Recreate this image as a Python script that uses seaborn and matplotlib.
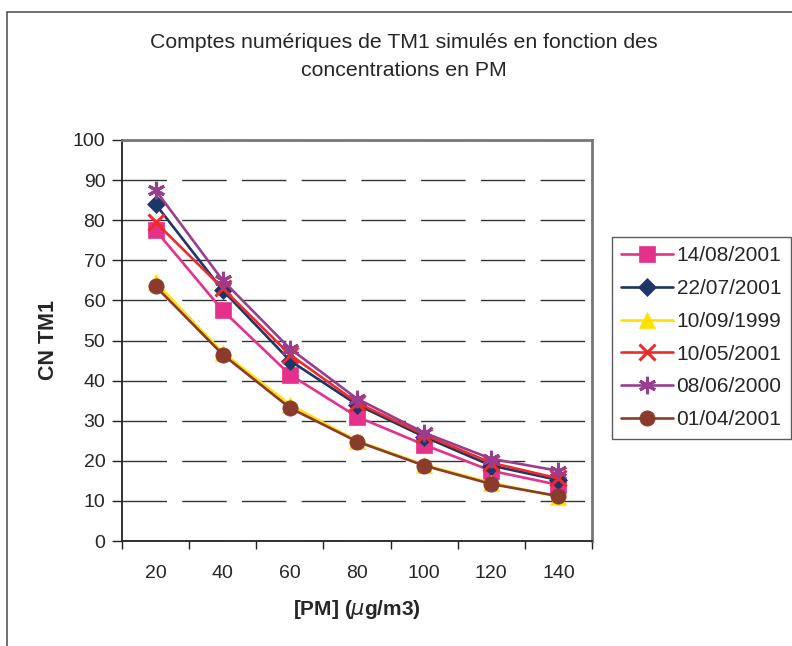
import numpy as np
import pandas as pd
import matplotlib
matplotlib.use("Agg")
import matplotlib.pyplot as plt
import seaborn as sns

# PM concentrations (categories on the x axis)
pm = [20, 40, 60, 80, 100, 120, 140]

# simulated TM1 counts, one list per date
s_140801 = [77.5, 57.5, 41.5, 31.0, 24.0, 17.5, 14.0]
s_220701 = [84.0, 62.5, 45.0, 34.0, 26.0, 18.8, 15.2]
s_100999 = [64.5, 47.0, 34.0, 25.0, 19.0, 14.5, 11.0]
s_100501 = [79.5, 63.0, 46.5, 34.5, 26.5, 19.5, 15.6]
s_080600 = [87.5, 65.0, 48.0, 35.5, 27.0, 20.5, 17.5]
s_010401 = [63.5, 46.5, 33.2, 24.8, 18.8, 14.2, 11.2]

labels = ["14/08/2001", "22/07/2001", "10/09/1999", "10/05/2001", "08/06/2000", "01/04/2001"]
series = [s_140801, s_220701, s_100999, s_100501, s_080600, s_010401]
colors = ["#e5308c", "#1c3766", "#ffe000", "#ee2a2a", "#9a3d8e", "#8b3b2b"]
markers = ["s", "D", "^", "x", (6, 2, 0), "o"]
msizes = [11, 9, 11, 11, 12.5, 11]

sns.set_style("white")
plt.rcParams['font.family'] = ['Liberation Sans', 'DejaVu Sans']

fig = plt.figure(figsize=(7.92, 6.46), dpi=100)
ax = fig.add_axes([122 / 792, 1 - 541 / 646, 470 / 792, 401 / 646])

xpos = np.arange(len(pm))
for lab, vals, c, m, ms in zip(labels, series, colors, markers, msizes):
    df = pd.DataFrame({"x": xpos, "y": vals})
    sns.lineplot(data=df, x="x", y="y", color=c, marker=m, markersize=ms,
                 linewidth=1.9, label=lab, ax=ax, sort=False)

for line in ax.lines:
    line.set_markeredgecolor(line.get_color())
    line.set_markerfacecolor(line.get_color())
    if line.get_marker() in ("x", (6, 2, 0)):
        line.set_markeredgewidth(2.2)
    else:
        line.set_markeredgewidth(0.5)

ax.set_xlim(-0.5, len(pm) - 0.5)
ax.set_ylim(0, 100)
ax.set_yticks(np.arange(0, 101, 10))
ax.set_yticklabels([str(v) for v in range(0, 101, 10)], fontsize=14)

# category boundaries get the tick marks, labels sit in the middle
ax.set_xticks(np.arange(-0.5, len(pm), 1.0))
ax.set_xticklabels([])
ax.set_xticks(xpos, minor=True)
ax.set_xticklabels([str(v) for v in pm], minor=True, fontsize=14)
ax.tick_params(axis="x", which="major", direction="out", length=6, width=1, color="#222", bottom=True)
ax.tick_params(axis="x", which="minor", length=0, pad=17)
ax.tick_params(axis="y", direction="out", length=7, width=1, color="#222", left=True, pad=5)

ax.yaxis.grid(True, color="#333", linewidth=1.0, dashes=(32, 11))
ax.xaxis.grid(False)
ax.set_axisbelow(True)

for side in ["top", "right"]:
    ax.spines[side].set_color("#777")
    ax.spines[side].set_linewidth(2)
for side in ["left", "bottom"]:
    ax.spines[side].set_color("#222")
    ax.spines[side].set_linewidth(1.3)

ax.set_xlabel(r"[PM] ($\mu$g/m3)", fontsize=15, fontweight="bold", labelpad=12)
ax.set_ylabel("CN TM1", fontsize=15.5, fontweight="bold", labelpad=10)

fig.text(404 / 792, 1 - 42 / 646, "Comptes numériques de TM1 simulés en fonction des",
         ha="center", va="center", fontsize=15.3)
fig.text(404 / 792, 1 - 71 / 646, "concentrations en PM",
         ha="center", va="center", fontsize=15.3)

leg = ax.legend(loc="upper left", bbox_to_anchor=(612 / 792, 1 - 237 / 646),
                bbox_transform=fig.transFigure, frameon=True, fancybox=False,
                fontsize=15, handlelength=2.5, handletextpad=0.15,
                labelspacing=0.66, borderpad=0.45, borderaxespad=0)
leg.get_frame().set_edgecolor("#333")
leg.get_frame().set_linewidth(1)

# outer chart frame
fig.add_artist(plt.Rectangle((7 / 792, -0.1), 1.2, 1 - 12 / 646 + 0.1,
                             transform=fig.transFigure, fill=False,
                             edgecolor="#555", linewidth=1.2))

fig.savefig("out.png", dpi=100)
